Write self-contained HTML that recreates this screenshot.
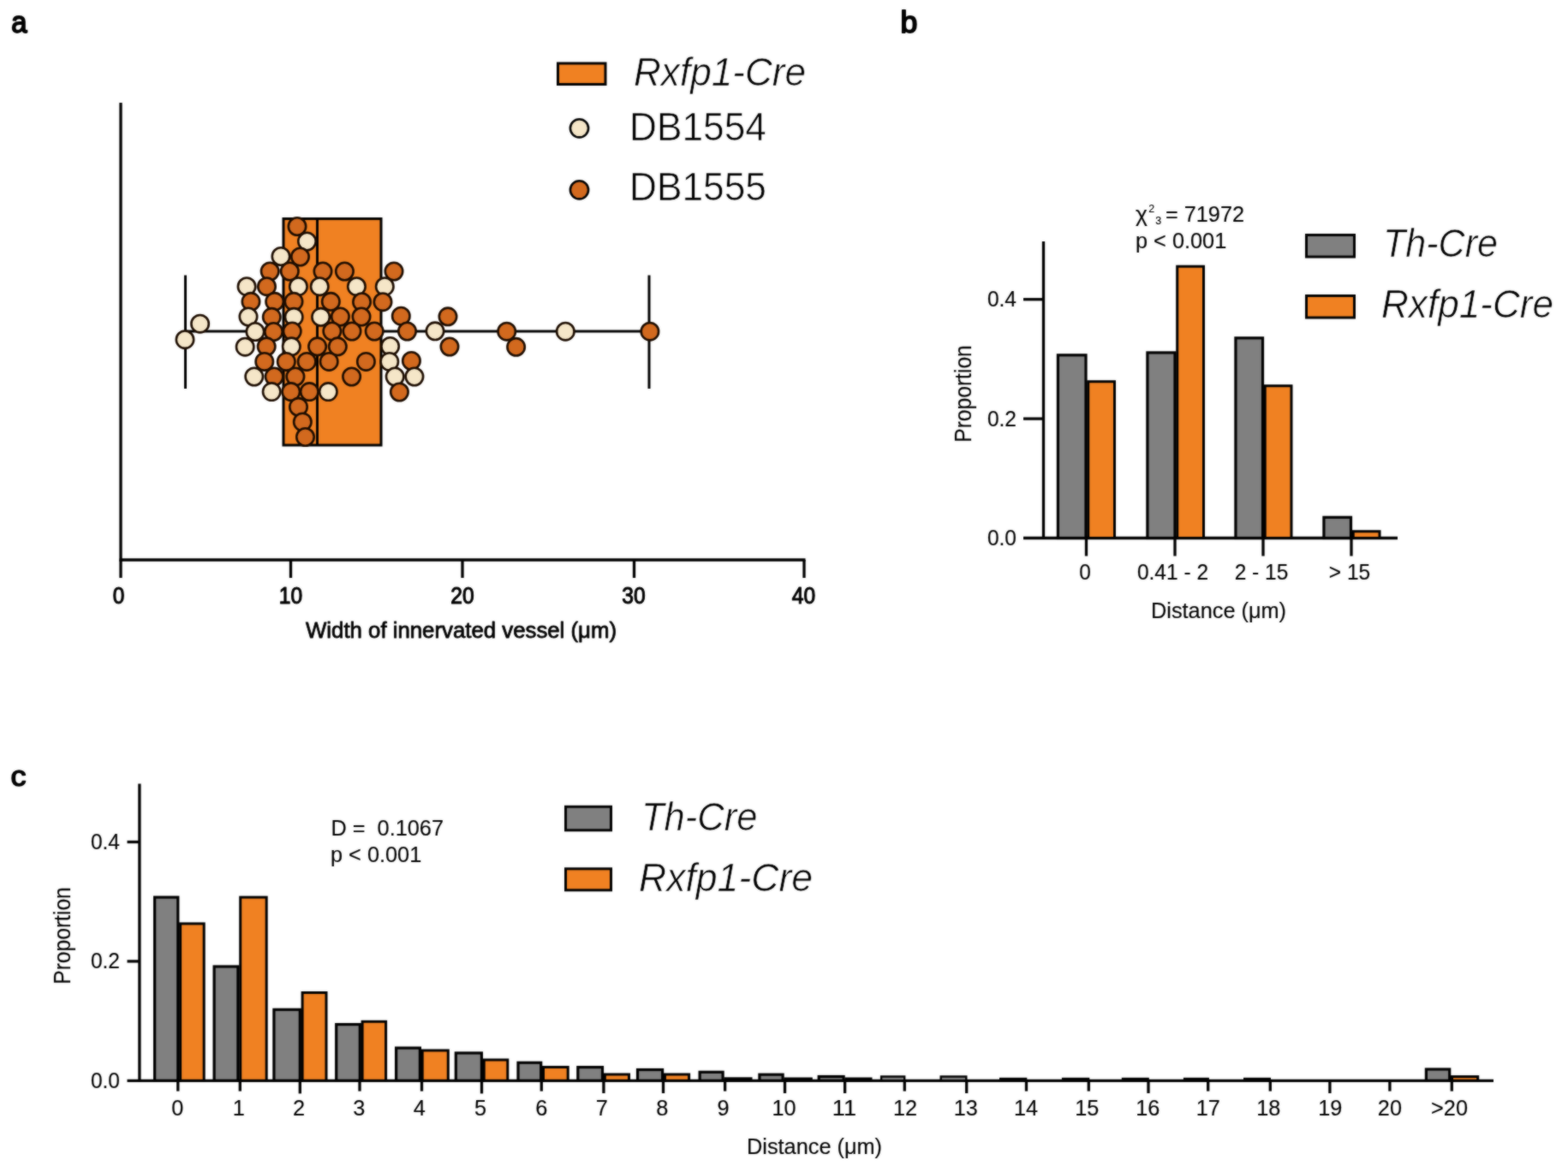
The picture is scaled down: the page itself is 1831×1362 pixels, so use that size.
<!DOCTYPE html>
<html lang="en"><head><meta charset="utf-8"><title>Figure</title>
<style>html,body{margin:0;padding:0;background:#fff;overflow:hidden;}svg{display:block;}text{font-family:"Liberation Sans",Arial,sans-serif;}</style>
</head><body>
<svg width="1831" height="1362" viewBox="0 0 1831 1362" stroke="#000" stroke-linecap="butt">
<defs><filter id="soft" x="0" y="0" width="1831" height="1362" filterUnits="userSpaceOnUse" color-interpolation-filters="sRGB"><feGaussianBlur in="SourceGraphic" stdDeviation="0.9" result="b"/><feComposite in="b" in2="SourceGraphic" operator="arithmetic" k1="0" k2="0.55" k3="0.45" k4="0"/></filter></defs>
<rect x="0" y="0" width="1831" height="1362" fill="#fff" stroke="none"/>
<g filter="url(#soft)">
<rect x="-20" y="-20" width="1871" height="1402" fill="#fff" stroke="none"/>
<g stroke="none">
<text x="13.2" y="38.4" font-size="34.5" textLength="18.3" lengthAdjust="spacingAndGlyphs" stroke="#000" stroke-width="1.8" stroke-linejoin="round" xml:space="preserve">a</text>
<text x="1051.6" y="38.4" font-size="34.3" textLength="19.8" lengthAdjust="spacingAndGlyphs" stroke="#000" stroke-width="1.8" stroke-linejoin="round" xml:space="preserve">b</text>
<text x="12.4" y="918.2" font-size="34" textLength="18" lengthAdjust="spacingAndGlyphs" stroke="#000" stroke-width="1.5" stroke-linejoin="round" xml:space="preserve">c</text>
</g>
<g id="panel-a">
<line x1="141" y1="120" x2="141" y2="655.5" stroke-width="3.3"/>
<line x1="139.5" y1="654" x2="940.5" y2="654" stroke-width="3.3"/>
<line x1="141" y1="654" x2="141" y2="675" stroke-width="3.3"/>
<line x1="339.5" y1="654" x2="339.5" y2="675" stroke-width="3.3"/>
<line x1="540" y1="654" x2="540" y2="675" stroke-width="3.3"/>
<line x1="740.5" y1="654" x2="740.5" y2="675" stroke-width="3.3"/>
<line x1="939" y1="654" x2="939" y2="675" stroke-width="3.3"/>
<g stroke="none">
<text x="138.5" y="705" font-size="26.95" text-anchor="middle" textLength="13.6" lengthAdjust="spacingAndGlyphs" stroke="#000" stroke-width="1.1" stroke-linejoin="round" xml:space="preserve">0</text>
<text x="339.5" y="705" font-size="26.95" text-anchor="middle" textLength="27.3" lengthAdjust="spacingAndGlyphs" stroke="#000" stroke-width="1.1" stroke-linejoin="round" xml:space="preserve">10</text>
<text x="540" y="705" font-size="26.95" text-anchor="middle" textLength="27.3" lengthAdjust="spacingAndGlyphs" stroke="#000" stroke-width="1.1" stroke-linejoin="round" xml:space="preserve">20</text>
<text x="740" y="705" font-size="26.95" text-anchor="middle" textLength="27.3" lengthAdjust="spacingAndGlyphs" stroke="#000" stroke-width="1.1" stroke-linejoin="round" xml:space="preserve">30</text>
<text x="938.5" y="705" font-size="26.95" text-anchor="middle" textLength="27.3" lengthAdjust="spacingAndGlyphs" stroke="#000" stroke-width="1.1" stroke-linejoin="round" xml:space="preserve">40</text>
<text x="357" y="745" font-size="26.0" textLength="363" lengthAdjust="spacingAndGlyphs" stroke="#000" stroke-width="0.8" stroke-linejoin="round" xml:space="preserve">Width of innervated vessel (μm)</text>
</g>
<line x1="216.5" y1="387" x2="758" y2="387" stroke-width="3.0"/>
<line x1="216.5" y1="321.5" x2="216.5" y2="454" stroke-width="3.0"/>
<line x1="758" y1="321.5" x2="758" y2="454" stroke-width="3.0"/>
<rect x="331" y="255.5" width="114" height="264.5" fill="#F08122" stroke-width="3.0"/>
<line x1="370.5" y1="255.5" x2="370.5" y2="520" stroke-width="2.9"/>
<g stroke-width="2.6" stroke="#1c0c00">
<circle cx="347.0" cy="264.5" r="10.2" fill="#D2691E"/>
<circle cx="358.5" cy="282" r="10.2" fill="#F5E6C8"/>
<circle cx="328" cy="299.5" r="10.2" fill="#F5E6C8"/>
<circle cx="350.5" cy="300" r="10.2" fill="#D2691E"/>
<circle cx="315.2" cy="317" r="10.2" fill="#D2691E"/>
<circle cx="338.3" cy="317" r="10.2" fill="#D2691E"/>
<circle cx="377" cy="317" r="10.2" fill="#D2691E"/>
<circle cx="402.4" cy="317" r="10.2" fill="#D2691E"/>
<circle cx="460" cy="317" r="10.2" fill="#D2691E"/>
<circle cx="288.1" cy="334.7" r="10.2" fill="#F5E6C8"/>
<circle cx="311.5" cy="334.7" r="10.2" fill="#D2691E"/>
<circle cx="348.4" cy="334.7" r="10.2" fill="#F5E6C8"/>
<circle cx="373.2" cy="334.7" r="10.2" fill="#F5E6C8"/>
<circle cx="416.4" cy="334.7" r="10.2" fill="#F5E6C8"/>
<circle cx="449.3" cy="334.7" r="10.2" fill="#F5E6C8"/>
<circle cx="293" cy="352.3" r="10.2" fill="#D2691E"/>
<circle cx="320.7" cy="352.3" r="10.2" fill="#D2691E"/>
<circle cx="343" cy="352.3" r="10.2" fill="#D2691E"/>
<circle cx="386.3" cy="352.3" r="10.2" fill="#D2691E"/>
<circle cx="422.5" cy="352.7" r="10.2" fill="#D2691E"/>
<circle cx="447" cy="352.7" r="10.2" fill="#D2691E"/>
<circle cx="290" cy="370" r="10.2" fill="#F5E6C8"/>
<circle cx="317.3" cy="370.3" r="10.2" fill="#D2691E"/>
<circle cx="343.2" cy="370.3" r="10.2" fill="#F5E6C8"/>
<circle cx="374.6" cy="370.3" r="10.2" fill="#F5E6C8"/>
<circle cx="397.4" cy="370" r="10.2" fill="#D2691E"/>
<circle cx="422" cy="370" r="10.2" fill="#D2691E"/>
<circle cx="468.3" cy="369.2" r="10.2" fill="#D2691E"/>
<circle cx="523" cy="369.8" r="10.2" fill="#D2691E"/>
<circle cx="233.6" cy="378.2" r="10.2" fill="#F5E6C8"/>
<circle cx="298" cy="387.5" r="10.2" fill="#F5E6C8"/>
<circle cx="319.5" cy="387.5" r="10.2" fill="#D2691E"/>
<circle cx="341.2" cy="387" r="10.2" fill="#D2691E"/>
<circle cx="387.8" cy="387" r="10.2" fill="#D2691E"/>
<circle cx="411" cy="387" r="10.2" fill="#D2691E"/>
<circle cx="437.2" cy="387" r="10.2" fill="#D2691E"/>
<circle cx="475.5" cy="387" r="10.2" fill="#D2691E"/>
<circle cx="508" cy="386.8" r="10.2" fill="#F5E6C8"/>
<circle cx="591.7" cy="387.2" r="10.2" fill="#D2691E"/>
<circle cx="660.3" cy="387.2" r="10.2" fill="#F5E6C8"/>
<circle cx="758.9" cy="387.2" r="10.2" fill="#D2691E"/>
<circle cx="216" cy="396.7" r="10.2" fill="#F5E6C8"/>
<circle cx="286.2" cy="405.2" r="10.2" fill="#F5E6C8"/>
<circle cx="311.2" cy="404.8" r="10.2" fill="#D2691E"/>
<circle cx="340.3" cy="404.8" r="10.2" fill="#F5E6C8"/>
<circle cx="370.6" cy="404.8" r="10.2" fill="#D2691E"/>
<circle cx="394.3" cy="404.8" r="10.2" fill="#D2691E"/>
<circle cx="455.6" cy="404.5" r="10.2" fill="#F5E6C8"/>
<circle cx="525" cy="405" r="10.2" fill="#D2691E"/>
<circle cx="602.6" cy="405.3" r="10.2" fill="#D2691E"/>
<circle cx="308.8" cy="422.4" r="10.2" fill="#D2691E"/>
<circle cx="334.3" cy="422.4" r="10.2" fill="#D2691E"/>
<circle cx="358.2" cy="422.4" r="10.2" fill="#D2691E"/>
<circle cx="384.2" cy="422.4" r="10.2" fill="#D2691E"/>
<circle cx="427.4" cy="422.4" r="10.2" fill="#D2691E"/>
<circle cx="454.8" cy="422.4" r="10.2" fill="#F5E6C8"/>
<circle cx="480.4" cy="421.5" r="10.2" fill="#D2691E"/>
<circle cx="296.8" cy="440" r="10.2" fill="#F5E6C8"/>
<circle cx="320.2" cy="440" r="10.2" fill="#D2691E"/>
<circle cx="344.9" cy="440" r="10.2" fill="#D2691E"/>
<circle cx="410.6" cy="440" r="10.2" fill="#D2691E"/>
<circle cx="461.2" cy="440" r="10.2" fill="#F5E6C8"/>
<circle cx="483.9" cy="440" r="10.2" fill="#F5E6C8"/>
<circle cx="317.2" cy="457.6" r="10.2" fill="#F5E6C8"/>
<circle cx="339.8" cy="457.6" r="10.2" fill="#D2691E"/>
<circle cx="361.3" cy="457.6" r="10.2" fill="#D2691E"/>
<circle cx="383.3" cy="457.6" r="10.2" fill="#F5E6C8"/>
<circle cx="466.4" cy="458" r="10.2" fill="#D2691E"/>
<circle cx="348.5" cy="475.3" r="10.2" fill="#D2691E"/>
<circle cx="353.3" cy="492.9" r="10.2" fill="#D2691E"/>
<circle cx="356.5" cy="510.5" r="10.2" fill="#D2691E"/>
</g>
<rect x="651.5" y="74" width="55.5" height="24.5" fill="#F08122" stroke-width="3"/>
<circle cx="676.5" cy="149.8" r="10.6" fill="#F5E6C8" stroke-width="2.6"/>
<circle cx="676.5" cy="221.8" r="10.6" fill="#D2691E" stroke-width="2.6"/>
<g stroke="none">
<text x="740" y="100" font-size="45.76" font-style="italic" textLength="201" lengthAdjust="spacingAndGlyphs" stroke="#fff" stroke-width="0.7" xml:space="preserve">Rxfp1-Cre</text>
<text x="735" y="163.5" font-size="45.76" textLength="160" lengthAdjust="spacingAndGlyphs" stroke="#fff" stroke-width="0.7" xml:space="preserve">DB1554</text>
<text x="735" y="234" font-size="45.76" textLength="160" lengthAdjust="spacingAndGlyphs" stroke="#fff" stroke-width="0.7" xml:space="preserve">DB1555</text>
</g>
</g>
<g id="panel-b">
<line x1="1218.5" y1="282" x2="1218.5" y2="630.0" stroke-width="3.3"/>
<line x1="1195" y1="628.5" x2="1632" y2="628.5" stroke-width="3.3"/>
<line x1="1195" y1="489.1" x2="1218.5" y2="489.1" stroke-width="3.3"/>
<line x1="1195" y1="349.7" x2="1218.5" y2="349.7" stroke-width="3.3"/>
<rect x="1235.4" y="414.8" width="32.6" height="213.7" fill="#808080" stroke-width="3.2"/>
<rect x="1270.7" y="445.7" width="30.8" height="182.8" fill="#F08122" stroke-width="3.0"/>
<rect x="1339.9" y="411.90000000000003" width="32.1" height="216.6" fill="#808080" stroke-width="3.2"/>
<rect x="1374.7" y="311.2" width="30.8" height="317.3" fill="#F08122" stroke-width="3.0"/>
<rect x="1442.9" y="394.8" width="31.6" height="233.7" fill="#808080" stroke-width="3.2"/>
<rect x="1477.2" y="450.7" width="30.8" height="177.8" fill="#F08122" stroke-width="3.0"/>
<rect x="1545.9" y="604.3" width="31.6" height="24.2" fill="#808080" stroke-width="3.2"/>
<rect x="1580.2" y="620.7" width="30.8" height="7.8" fill="#F08122" stroke-width="3.0"/>
<line x1="1268.5" y1="628.5" x2="1268.5" y2="649.5" stroke-width="3.3"/>
<line x1="1372" y1="628.5" x2="1372" y2="649.5" stroke-width="3.3"/>
<line x1="1475" y1="628.5" x2="1475" y2="649.5" stroke-width="3.3"/>
<line x1="1578" y1="628.5" x2="1578" y2="649.5" stroke-width="3.3"/>
<g stroke="none">
<text x="1187" y="637.0" font-size="25.48" text-anchor="end" textLength="34.1" lengthAdjust="spacingAndGlyphs" stroke="#000" stroke-width="0.15" stroke-linejoin="round" xml:space="preserve">0.0</text>
<text x="1187" y="497.6" font-size="25.48" text-anchor="end" textLength="34.1" lengthAdjust="spacingAndGlyphs" stroke="#000" stroke-width="0.15" stroke-linejoin="round" xml:space="preserve">0.2</text>
<text x="1187" y="358.2" font-size="25.48" text-anchor="end" textLength="34.1" lengthAdjust="spacingAndGlyphs" stroke="#000" stroke-width="0.15" stroke-linejoin="round" xml:space="preserve">0.4</text>
<text x="1267" y="677" font-size="25.48" text-anchor="middle" textLength="13.6" lengthAdjust="spacingAndGlyphs" stroke="#000" stroke-width="0.15" stroke-linejoin="round" xml:space="preserve">0</text>
<text x="1369.5" y="677" font-size="25.48" text-anchor="middle" textLength="83.1" lengthAdjust="spacingAndGlyphs" stroke="#000" stroke-width="0.15" stroke-linejoin="round" xml:space="preserve">0.41 - 2</text>
<text x="1473" y="677" font-size="25.48" text-anchor="middle" textLength="62.6" lengthAdjust="spacingAndGlyphs" stroke="#000" stroke-width="0.15" stroke-linejoin="round" xml:space="preserve">2 - 15</text>
<text x="1576" y="677" font-size="25.48" text-anchor="middle" textLength="48.4" lengthAdjust="spacingAndGlyphs" stroke="#000" stroke-width="0.15" stroke-linejoin="round" xml:space="preserve">&gt; 15</text>
<text x="1423" y="722" font-size="26.0" text-anchor="middle" textLength="158" lengthAdjust="spacingAndGlyphs" stroke="#000" stroke-width="0.15" stroke-linejoin="round" xml:space="preserve">Distance (μm)</text>
<text x="1133.5" y="460" font-size="28.29" text-anchor="middle" textLength="113.5" lengthAdjust="spacingAndGlyphs" transform="rotate(-90 1133.5 460)" stroke="#000" stroke-width="0.15" stroke-linejoin="round" xml:space="preserve">Proportion</text>
<text x="1326" y="259" font-size="26.5" stroke="#000" stroke-width="0.15" xml:space="preserve">χ<tspan x="1341.3" y="247.5" font-size="12.5" stroke-width="0.1">2</tspan><tspan x="1349.3" y="261.5" font-size="12.5" stroke-width="0.1">3</tspan><tspan x="1361" y="259" textLength="92" lengthAdjust="spacingAndGlyphs">= 71972</tspan></text>
<text x="1326" y="289.5" font-size="26.31" textLength="106.2" lengthAdjust="spacingAndGlyphs" stroke="#000" stroke-width="0.15" stroke-linejoin="round" xml:space="preserve">p &lt; 0.001</text>
<text x="1615" y="300" font-size="45.76" font-style="italic" textLength="134" lengthAdjust="spacingAndGlyphs" stroke="#fff" stroke-width="0.7" xml:space="preserve">Th-Cre</text>
<text x="1613" y="371" font-size="45.76" font-style="italic" textLength="201" lengthAdjust="spacingAndGlyphs" stroke="#fff" stroke-width="0.7" xml:space="preserve">Rxfp1-Cre</text>
</g>
<rect x="1525.5" y="274.5" width="56.0" height="25.5" fill="#808080" stroke-width="3"/>
<rect x="1525.5" y="345.5" width="56.0" height="25.5" fill="#F08122" stroke-width="3"/>
</g>
<g id="panel-c">
<line x1="162.9" y1="915.5" x2="162.9" y2="1263.8" stroke-width="3.3"/>
<line x1="148.5" y1="1262.3" x2="1744" y2="1262.3" stroke-width="3.3"/>
<line x1="148.5" y1="1122.9" x2="162.9" y2="1122.9" stroke-width="3.3"/>
<line x1="148.5" y1="983.5" x2="162.9" y2="983.5" stroke-width="3.3"/>
<rect x="180.6" y="1048.1" width="27.2" height="214.2" fill="#808080" stroke-width="3.2"/>
<rect x="210.6" y="1078.9" width="27.6" height="183.4" fill="#F08122" stroke-width="3.0"/>
<rect x="250.1" y="1129.0" width="27.8" height="133.3" fill="#808080" stroke-width="3.2"/>
<rect x="280.7" y="1048.1" width="30.5" height="214.2" fill="#F08122" stroke-width="3.0"/>
<rect x="319.9" y="1179.3" width="30.4" height="83.0" fill="#808080" stroke-width="3.2"/>
<rect x="353.1" y="1159.5" width="27.9" height="102.8" fill="#F08122" stroke-width="3.0"/>
<rect x="392.7" y="1196.6" width="27.6" height="65.7" fill="#808080" stroke-width="3.2"/>
<rect x="423.1" y="1193.3" width="27.5" height="69.0" fill="#F08122" stroke-width="3.0"/>
<rect x="462.6" y="1224.1" width="27.8" height="38.2" fill="#808080" stroke-width="3.2"/>
<rect x="493.2" y="1227.0" width="30.1" height="35.3" fill="#F08122" stroke-width="3.0"/>
<rect x="532.3" y="1230.0" width="30.1" height="32.3" fill="#808080" stroke-width="3.2"/>
<rect x="565.2" y="1238.0" width="27.6" height="24.3" fill="#F08122" stroke-width="3.0"/>
<rect x="605.0" y="1241.3" width="26.7" height="21.0" fill="#808080" stroke-width="3.2"/>
<rect x="634.5" y="1246.5" width="28.7" height="15.8" fill="#F08122" stroke-width="3.0"/>
<rect x="674.8" y="1246.6" width="28.7" height="15.7" fill="#808080" stroke-width="3.2"/>
<rect x="706.3" y="1255.0" width="28.2" height="7.3" fill="#F08122" stroke-width="3.0"/>
<rect x="744.5" y="1249.5" width="29.1" height="12.8" fill="#808080" stroke-width="3.2"/>
<rect x="776.4" y="1255.0" width="28.2" height="7.3" fill="#F08122" stroke-width="3.0"/>
<rect x="817.1" y="1252.3" width="27.0" height="10.0" fill="#808080" stroke-width="3.2"/>
<rect x="846.9" y="1259.8" width="30.1" height="2.5" fill="#F08122" stroke-width="3.0"/>
<rect x="886.9" y="1255.2" width="27.2" height="7.1" fill="#808080" stroke-width="3.2"/>
<rect x="916.9" y="1260.0" width="30.4" height="2.3" fill="#F08122" stroke-width="3.0"/>
<rect x="956.2" y="1257.5" width="28.9" height="4.8" fill="#808080" stroke-width="3.2"/>
<rect x="987.9" y="1260.0" width="29.1" height="2.3" fill="#F08122" stroke-width="3.0"/>
<rect x="1029.1" y="1257.5" width="27.1" height="4.8" fill="#808080" stroke-width="2.4"/>
<rect x="1098.7" y="1257.5" width="29.6" height="4.8" fill="#808080" stroke-width="2.4"/>
<rect x="1168.2" y="1260.0" width="29.9" height="2.3" fill="#808080" stroke-width="2.4"/>
<rect x="1241.1" y="1260.0" width="30.0" height="2.3" fill="#808080" stroke-width="2.4"/>
<rect x="1311.0" y="1260.0" width="29.6" height="2.3" fill="#808080" stroke-width="2.4"/>
<rect x="1383.1" y="1260.0" width="27.6" height="2.3" fill="#808080" stroke-width="2.4"/>
<rect x="1453.2" y="1260.0" width="29.6" height="2.3" fill="#808080" stroke-width="2.4"/>
<rect x="1665.4" y="1249.0" width="27.3" height="13.3" fill="#808080" stroke-width="3.2"/>
<rect x="1695.5" y="1257.6" width="30.2" height="4.7" fill="#F08122" stroke-width="3.0"/>
<line x1="207.8" y1="1262.3" x2="207.8" y2="1274.6" stroke-width="3.3"/>
<line x1="280.3" y1="1262.3" x2="280.3" y2="1274.6" stroke-width="3.3"/>
<line x1="350.3" y1="1262.3" x2="350.3" y2="1277.4" stroke-width="3.3"/>
<line x1="420.0" y1="1262.3" x2="420.0" y2="1274.6" stroke-width="3.3"/>
<line x1="492.5" y1="1262.3" x2="492.5" y2="1274.6" stroke-width="3.3"/>
<line x1="562.5" y1="1262.3" x2="562.5" y2="1277.4" stroke-width="3.3"/>
<line x1="632.3" y1="1262.3" x2="632.3" y2="1274.6" stroke-width="3.3"/>
<line x1="704.9" y1="1262.3" x2="704.9" y2="1277" stroke-width="3.3"/>
<line x1="774.5" y1="1262.3" x2="774.5" y2="1277" stroke-width="3.3"/>
<line x1="846.6" y1="1262.3" x2="846.6" y2="1274.6" stroke-width="3.3"/>
<line x1="916.5" y1="1262.3" x2="916.5" y2="1277" stroke-width="3.3"/>
<line x1="986.6" y1="1262.3" x2="986.6" y2="1277" stroke-width="3.3"/>
<line x1="1056.3" y1="1262.3" x2="1056.3" y2="1274.6" stroke-width="3.3"/>
<line x1="1128.7" y1="1262.3" x2="1128.7" y2="1277" stroke-width="3.3"/>
<line x1="1198.5" y1="1262.3" x2="1198.5" y2="1274.6" stroke-width="3.3"/>
<line x1="1271.3" y1="1262.3" x2="1271.3" y2="1274.6" stroke-width="3.3"/>
<line x1="1341.0" y1="1262.3" x2="1341.0" y2="1277" stroke-width="3.3"/>
<line x1="1410.7" y1="1262.3" x2="1410.7" y2="1274.6" stroke-width="3.3"/>
<line x1="1483.3" y1="1262.3" x2="1483.3" y2="1274.6" stroke-width="3.3"/>
<line x1="1552.9" y1="1262.3" x2="1552.9" y2="1277" stroke-width="3.3"/>
<line x1="1622.9" y1="1262.3" x2="1622.9" y2="1274.6" stroke-width="3.3"/>
<line x1="1695.3" y1="1262.3" x2="1695.3" y2="1274.6" stroke-width="3.3"/>
<g stroke="none">
<text x="140" y="1270.8" font-size="25.48" text-anchor="end" textLength="34.1" lengthAdjust="spacingAndGlyphs" stroke="#000" stroke-width="0.15" stroke-linejoin="round" xml:space="preserve">0.0</text>
<text x="140" y="1131.4" font-size="25.48" text-anchor="end" textLength="34.1" lengthAdjust="spacingAndGlyphs" stroke="#000" stroke-width="0.15" stroke-linejoin="round" xml:space="preserve">0.2</text>
<text x="140" y="992.0" font-size="25.48" text-anchor="end" textLength="34.1" lengthAdjust="spacingAndGlyphs" stroke="#000" stroke-width="0.15" stroke-linejoin="round" xml:space="preserve">0.4</text>
<text x="207.2" y="1302.9" font-size="26.31" text-anchor="middle" textLength="14.1" lengthAdjust="spacingAndGlyphs" stroke="#000" stroke-width="0.15" stroke-linejoin="round" xml:space="preserve">0</text>
<text x="278.8" y="1302.9" font-size="26.31" text-anchor="middle" textLength="14.1" lengthAdjust="spacingAndGlyphs" stroke="#000" stroke-width="0.15" stroke-linejoin="round" xml:space="preserve">1</text>
<text x="349.1" y="1302.9" font-size="26.31" text-anchor="middle" textLength="14.1" lengthAdjust="spacingAndGlyphs" stroke="#000" stroke-width="0.15" stroke-linejoin="round" xml:space="preserve">2</text>
<text x="419.3" y="1302.9" font-size="26.31" text-anchor="middle" textLength="14.1" lengthAdjust="spacingAndGlyphs" stroke="#000" stroke-width="0.15" stroke-linejoin="round" xml:space="preserve">3</text>
<text x="489.9" y="1302.9" font-size="26.31" text-anchor="middle" textLength="14.1" lengthAdjust="spacingAndGlyphs" stroke="#000" stroke-width="0.15" stroke-linejoin="round" xml:space="preserve">4</text>
<text x="561.1" y="1302.9" font-size="26.31" text-anchor="middle" textLength="14.1" lengthAdjust="spacingAndGlyphs" stroke="#000" stroke-width="0.15" stroke-linejoin="round" xml:space="preserve">5</text>
<text x="632.3" y="1302.9" font-size="26.31" text-anchor="middle" textLength="14.1" lengthAdjust="spacingAndGlyphs" stroke="#000" stroke-width="0.15" stroke-linejoin="round" xml:space="preserve">6</text>
<text x="702.9" y="1302.9" font-size="26.31" text-anchor="middle" textLength="14.1" lengthAdjust="spacingAndGlyphs" stroke="#000" stroke-width="0.15" stroke-linejoin="round" xml:space="preserve">7</text>
<text x="773.4" y="1302.9" font-size="26.31" text-anchor="middle" textLength="14.1" lengthAdjust="spacingAndGlyphs" stroke="#000" stroke-width="0.15" stroke-linejoin="round" xml:space="preserve">8</text>
<text x="844.5" y="1302.9" font-size="26.31" text-anchor="middle" textLength="14.1" lengthAdjust="spacingAndGlyphs" stroke="#000" stroke-width="0.15" stroke-linejoin="round" xml:space="preserve">9</text>
<text x="915.6" y="1302.9" font-size="26.31" text-anchor="middle" textLength="28.1" lengthAdjust="spacingAndGlyphs" stroke="#000" stroke-width="0.15" stroke-linejoin="round" xml:space="preserve">10</text>
<text x="985.9" y="1302.9" font-size="26.31" text-anchor="middle" textLength="28.1" lengthAdjust="spacingAndGlyphs" stroke="#000" stroke-width="0.15" stroke-linejoin="round" xml:space="preserve">11</text>
<text x="1057" y="1302.9" font-size="26.31" text-anchor="middle" textLength="28.1" lengthAdjust="spacingAndGlyphs" stroke="#000" stroke-width="0.15" stroke-linejoin="round" xml:space="preserve">12</text>
<text x="1127.7" y="1302.9" font-size="26.31" text-anchor="middle" textLength="28.1" lengthAdjust="spacingAndGlyphs" stroke="#000" stroke-width="0.15" stroke-linejoin="round" xml:space="preserve">13</text>
<text x="1198.1" y="1302.9" font-size="26.31" text-anchor="middle" textLength="28.1" lengthAdjust="spacingAndGlyphs" stroke="#000" stroke-width="0.15" stroke-linejoin="round" xml:space="preserve">14</text>
<text x="1269.3" y="1302.9" font-size="26.31" text-anchor="middle" textLength="28.1" lengthAdjust="spacingAndGlyphs" stroke="#000" stroke-width="0.15" stroke-linejoin="round" xml:space="preserve">15</text>
<text x="1340.2" y="1302.9" font-size="26.31" text-anchor="middle" textLength="28.1" lengthAdjust="spacingAndGlyphs" stroke="#000" stroke-width="0.15" stroke-linejoin="round" xml:space="preserve">16</text>
<text x="1410.7" y="1302.9" font-size="26.31" text-anchor="middle" textLength="28.1" lengthAdjust="spacingAndGlyphs" stroke="#000" stroke-width="0.15" stroke-linejoin="round" xml:space="preserve">17</text>
<text x="1481.3" y="1302.9" font-size="26.31" text-anchor="middle" textLength="28.1" lengthAdjust="spacingAndGlyphs" stroke="#000" stroke-width="0.15" stroke-linejoin="round" xml:space="preserve">18</text>
<text x="1553.2" y="1302.9" font-size="26.31" text-anchor="middle" textLength="28.1" lengthAdjust="spacingAndGlyphs" stroke="#000" stroke-width="0.15" stroke-linejoin="round" xml:space="preserve">19</text>
<text x="1622.9" y="1302.9" font-size="26.31" text-anchor="middle" textLength="28.1" lengthAdjust="spacingAndGlyphs" stroke="#000" stroke-width="0.15" stroke-linejoin="round" xml:space="preserve">20</text>
<text x="1692.5" y="1302.9" font-size="26.31" text-anchor="middle" textLength="42.9" lengthAdjust="spacingAndGlyphs" stroke="#000" stroke-width="0.15" stroke-linejoin="round" xml:space="preserve">&gt;20</text>
<text x="951" y="1348" font-size="26.0" text-anchor="middle" textLength="158" lengthAdjust="spacingAndGlyphs" stroke="#000" stroke-width="0.15" stroke-linejoin="round" xml:space="preserve">Distance (μm)</text>
<text x="82.3" y="1093" font-size="27.31" text-anchor="middle" textLength="113.5" lengthAdjust="spacingAndGlyphs" transform="rotate(-90 82.3 1093)" stroke="#000" stroke-width="0.15" stroke-linejoin="round" xml:space="preserve">Proportion</text>
<text x="386.5" y="975.8" font-size="26.31" textLength="131.5" lengthAdjust="spacingAndGlyphs" stroke="#000" stroke-width="0.15" stroke-linejoin="round" xml:space="preserve">D =  0.1067</text>
<text x="386" y="1007" font-size="26.31" textLength="106.2" lengthAdjust="spacingAndGlyphs" stroke="#000" stroke-width="0.15" stroke-linejoin="round" xml:space="preserve">p &lt; 0.001</text>
<text x="749" y="969.6" font-size="45.76" font-style="italic" textLength="135.5" lengthAdjust="spacingAndGlyphs" stroke="#fff" stroke-width="0.7" xml:space="preserve">Th-Cre</text>
<text x="746" y="1040.6" font-size="45.76" font-style="italic" textLength="203" lengthAdjust="spacingAndGlyphs" stroke="#fff" stroke-width="0.7" xml:space="preserve">Rxfp1-Cre</text>
</g>
<rect x="660.5" y="942.3" width="53.0" height="27.5" fill="#808080" stroke-width="3"/>
<rect x="660.5" y="1014.8" width="53.0" height="25.0" fill="#F08122" stroke-width="3"/>
</g>
</g>
</svg>
</body></html>
